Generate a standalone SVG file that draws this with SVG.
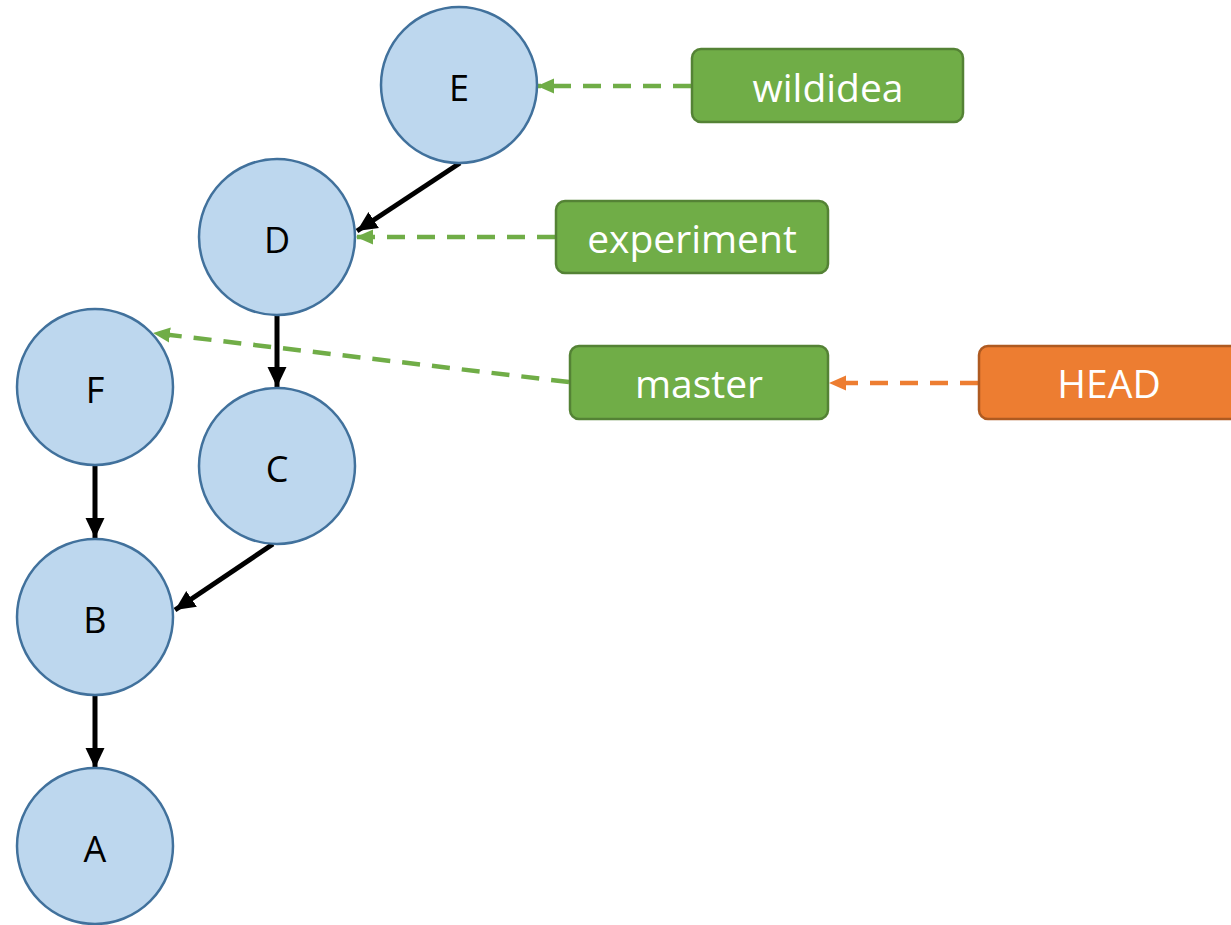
<svg xmlns="http://www.w3.org/2000/svg" width="1231" height="925" viewBox="0 0 1231 925">
<style>
.node circle{fill:#BDD7EE;stroke:#41719C;stroke-width:2.5}
.node text{font-family:"Open Sans","Liberation Sans",sans-serif;font-size:36px;fill:#000;text-anchor:middle;dominant-baseline:central}
.lbl text{font-family:"Open Sans","Liberation Sans",sans-serif;font-size:39px;fill:#fff;text-anchor:middle;dominant-baseline:central}
.green rect{fill:#70AD47;stroke:#548235;stroke-width:2.5}
.orange rect{fill:#ED7D31;stroke:#AE5A21;stroke-width:2.5}
.edge{stroke:#000;stroke-width:5;fill:none}
.gd{stroke:#70AD47;stroke-width:4.5;stroke-dasharray:18 12;fill:none}
.od{stroke:#ED7D31;stroke-width:4.5;stroke-dasharray:18 12;fill:none}
</style>
<defs>
<marker id="ab" markerUnits="userSpaceOnUse" markerWidth="22" markerHeight="22" viewBox="0 0 22 22" refX="20" refY="11" orient="auto"><path d="M0,1.5 L20,11 L0,20.5 Z" fill="#000"/></marker>
<marker id="ag" markerUnits="userSpaceOnUse" markerWidth="18" markerHeight="18" viewBox="0 0 18 18" refX="17" refY="9" orient="auto"><path d="M0,1.5 L17,9 L0,16.5 Z" fill="#70AD47"/></marker>
<marker id="ao" markerUnits="userSpaceOnUse" markerWidth="18" markerHeight="18" viewBox="0 0 18 18" refX="17" refY="9" orient="auto"><path d="M0,1.5 L17,9 L0,16.5 Z" fill="#ED7D31"/></marker>
</defs>
<g id="connectors">
<line class="edge" x1="460" y1="163" x2="357" y2="231" marker-end="url(#ab)"/>
<line class="edge" x1="277" y1="315" x2="277" y2="387" marker-end="url(#ab)"/>
<line class="edge" x1="95" y1="465" x2="95" y2="538" marker-end="url(#ab)"/>
<line class="edge" x1="273" y1="544" x2="175" y2="610" marker-end="url(#ab)"/>
<line class="edge" x1="95" y1="695" x2="95" y2="768" marker-end="url(#ab)"/>
<line class="gd" x1="691" y1="86" x2="537" y2="86" marker-end="url(#ag)"/>
<line class="gd" x1="555" y1="237" x2="356" y2="237" marker-end="url(#ag)"/>
<line class="gd" x1="569" y1="382" x2="153" y2="333" marker-end="url(#ag)"/>
<line class="od" x1="978" y1="383" x2="829" y2="383" marker-end="url(#ao)"/>
</g>
<g id="node-E" class="node"><circle cx="459" cy="85" r="78"/><text x="459" y="87">E</text></g>
<g id="node-D" class="node"><circle cx="277" cy="237" r="78"/><text x="277" y="239">D</text></g>
<g id="node-F" class="node"><circle cx="95" cy="387" r="78"/><text x="95" y="389">F</text></g>
<g id="node-C" class="node"><circle cx="277" cy="466" r="78"/><text x="277" y="468">C</text></g>
<g id="node-B" class="node"><circle cx="95" cy="617" r="78"/><text x="95" y="619">B</text></g>
<g id="node-A" class="node"><circle cx="95" cy="846" r="78"/><text x="95" y="848">A</text></g>
<g id="label-wildidea" class="lbl green"><rect x="692" y="49" width="271" height="73" rx="9"/><text x="828" y="86">wildidea</text></g>
<g id="label-experiment" class="lbl green"><rect x="556" y="201" width="272" height="72" rx="9"/><text x="692" y="237">experiment</text></g>
<g id="label-master" class="lbl green"><rect x="570" y="346" width="258" height="73" rx="9"/><text x="699" y="382">master</text></g>
<g id="label-HEAD" class="lbl orange"><rect x="979" y="346" width="260" height="73" rx="9"/><text x="1109" y="382">HEAD</text></g>
</svg>
